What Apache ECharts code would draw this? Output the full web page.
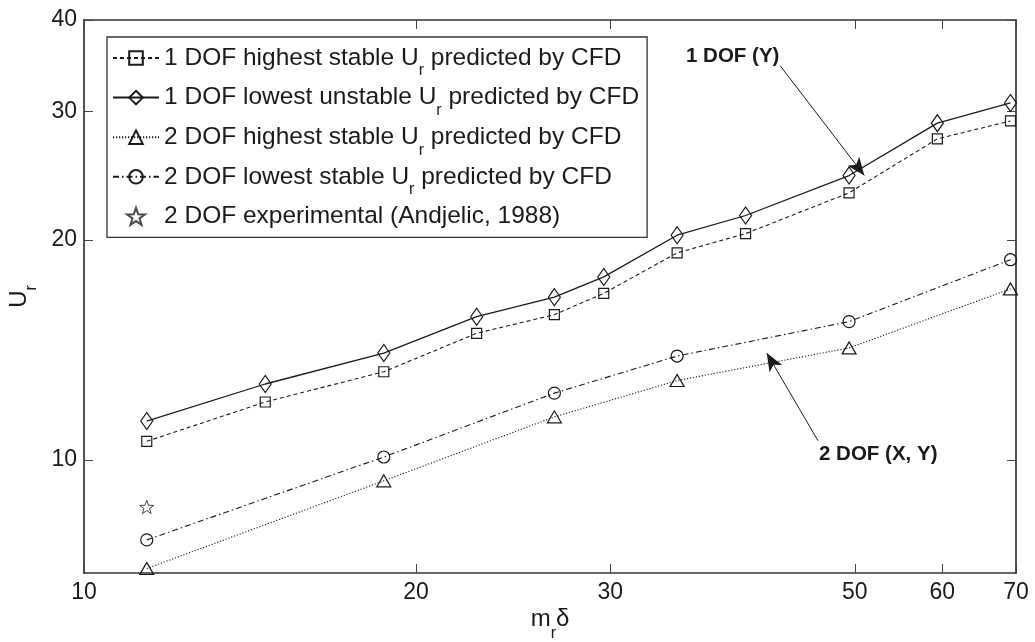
<!DOCTYPE html>
<html>
<head>
<meta charset="utf-8">
<script src="https://cdn.jsdelivr.net/npm/echarts@6/dist/echarts.min.js"></script>
<style>
  html, body { margin: 0; padding: 0; background: #fff; }
  #chart { width: 1035px; height: 642px; }
</style>
</head>
<body>
<div id="chart"></div>
<script>
// Mass-damping parameter (m_r * delta) of the CFD runs
const massDamping1dof = [11.4, 14.6, 18.7, 22.7, 26.7, 29.6, 34.5, 39.8, 49.4, 59.4, 69.2];
const urHighestStable1dof = [10.6, 12.0, 13.2, 14.9, 15.8, 16.9, 19.2, 20.4, 23.2, 27.5, 29.1];
const urLowestUnstable1dof = [11.3, 12.7, 14.0, 15.7, 16.7, 17.8, 20.3, 21.6, 24.5, 28.9, 30.8];

const massDamping2dof = [11.4, 18.7, 26.7, 34.5, 49.4, 69.2];
const urHighestStable2dof = [7.1, 9.36, 11.45, 12.84, 14.23, 17.14];
const urLowestStable2dof = [7.77, 10.09, 12.34, 13.87, 15.46, 18.79];

// Experimental point (Andjelic, 1988)
const massDampingExp = [11.4];
const urExp = [8.62];

// Axis ranges and tick labels
const xRange = [10, 70];
const yRange = [7, 40];
const xTickValues = [10, 20, 30, 50, 60, 70];
const yTickValues = [10, 20, 30, 40];

// Annotation arrows, [tail, head] in data units
const arrow1dof = [[42.8, 34.6], [51.0, 24.5]];
const arrow2dof = [[46.3, 10.62], [41.6, 14.0]];

const seriesNames = [
  '1 DOF highest stable U_r predicted by CFD',
  '1 DOF lowest unstable U_r predicted by CFD',
  '2 DOF highest stable U_r predicted by CFD',
  '2 DOF lowest stable U_r predicted by CFD',
  '2 DOF experimental (Andjelic, 1988)'
];

const FONT = '"Liberation Sans", Arial, Helvetica, sans-serif';
const INK = '#1a1a1a';
const FRAME = '#333';
const STAR = 'path://M0,-10L2.35,-3.24L9.51,-3.09L3.8,1.24L5.88,8.09L0,4L-5.88,8.09L-3.8,1.24L-9.51,-3.09L-2.35,-3.24Z';

function pairs(xs, ys) { return xs.map((x, i) => [x, ys[i]]); }

const hollow = { color: 'rgba(255,255,255,0)', borderColor: INK, borderWidth: 1.2 };

// Rich styles: main text centred in the line, subscript dropped to the line bottom
function richPair(mainSize, subSize, lineH) {
  return {
    t: { fontSize: mainSize, fontFamily: FONT, color: INK, lineHeight: lineH, verticalAlign: 'middle' },
    s: { fontSize: subSize, fontFamily: FONT, color: INK, lineHeight: lineH, verticalAlign: 'bottom' }
  };
}

function makeX(position, main) {
  return {
    type: 'log', logBase: 10, min: xRange[0], max: xRange[1], position: position,
    axisLine: { show: true, onZero: false, lineStyle: { color: FRAME, width: 1.7 } },
    axisTick: { show: true, inside: true, length: 9, customValues: xTickValues,
                lineStyle: { color: '#444', width: 1 } },
    minorTick: { show: false },
    axisLabel: { show: main, customValues: xTickValues, fontSize: 23, fontFamily: FONT,
                 color: INK, margin: 8 },
    splitLine: { show: false },
    name: main ? '{t|m}{s|r}{t|δ}' : '',
    nameLocation: 'middle', nameGap: 23, nameMoveOverlap: false,
    nameTextStyle: { fontSize: 24, fontFamily: FONT, color: INK, lineHeight: 46,
                     rich: richPair(24, 16, 46) }
  };
}

function makeY(position, main) {
  return {
    type: 'log', logBase: 10, min: yRange[0], max: yRange[1], position: position,
    axisLine: { show: true, onZero: false, lineStyle: { color: FRAME, width: 1.7 } },
    axisTick: { show: true, inside: true, length: 9, customValues: yTickValues,
                lineStyle: { color: '#444', width: 1 } },
    minorTick: { show: false },
    axisLabel: { show: main, customValues: yTickValues, fontSize: 23, fontFamily: FONT,
                 color: INK, margin: 7 },
    splitLine: { show: false },
    name: main ? '{t|U}{s|r}' : '',
    nameLocation: 'middle', nameGap: 44, nameMoveOverlap: false,
    nameTextStyle: { fontSize: 24, fontFamily: FONT, color: INK, lineHeight: 42,
                     rich: richPair(24, 16, 42) }
  };
}

function legendLabel(name) {
  const parts = name.split('U_r');
  if (parts.length === 1) return '{t|' + name + '}';
  return '{t|' + parts[0] + 'U}{s|r}{t|' + parts[1] + '}';
}

const chart = echarts.init(document.getElementById('chart'), null, { renderer: 'canvas' });

const option = {
  animation: false,
  color: [INK],
  textStyle: { fontFamily: FONT },
  grid: { left: 84, right: 19, top: 20, bottom: 69, containLabel: false, outerBoundsMode: 'none' },
  legend: {
    orient: 'vertical', left: 107, top: 37,
    padding: [0, 8, 0, 5],
    backgroundColor: '#fff',
    borderColor: FRAME, borderWidth: 1.3, borderRadius: 0,
    itemWidth: 46, itemHeight: 17, itemGap: -2.4,
    data: seriesNames,
    formatter: legendLabel,
    textStyle: { fontSize: 24.5, fontFamily: FONT, color: INK, lineHeight: 42,
                 rich: richPair(24.5, 16, 42) },
    selectedMode: false
  },
  xAxis: [makeX('bottom', true), makeX('top', false)],
  yAxis: [makeY('left', true), makeY('right', false)],
  series: [
    {
      name: seriesNames[0], type: 'line', xAxisIndex: 0, yAxisIndex: 0,
      data: pairs(massDamping1dof, urHighestStable1dof),
      symbol: 'rect', symbolSize: 10, showSymbol: true,
      lineStyle: { color: INK, width: 1.1, type: [4, 3] },
      itemStyle: hollow, z: 3
    },
    {
      name: seriesNames[1], type: 'line', xAxisIndex: 0, yAxisIndex: 0,
      data: pairs(massDamping1dof, urLowestUnstable1dof),
      symbol: 'diamond', symbolSize: [12, 17], showSymbol: true,
      lineStyle: { color: INK, width: 1.3, type: 'solid' },
      itemStyle: hollow, z: 3,
      markLine: {
        silent: true, symbol: ['none', 'arrow'], symbolSize: [11, 18],
        label: { show: false },
        lineStyle: { color: INK, width: 1, type: 'solid' },
        data: [
          [{ coord: arrow1dof[0] }, { coord: arrow1dof[1] }],
          [{ coord: arrow2dof[0] }, { coord: arrow2dof[1] }]
        ]
      }
    },
    {
      name: seriesNames[2], type: 'line', xAxisIndex: 0, yAxisIndex: 0,
      data: pairs(massDamping2dof, urHighestStable2dof),
      symbol: 'triangle', symbolSize: [14, 12], showSymbol: true,
      lineStyle: { color: INK, width: 1.1, type: [1.2, 1.8] },
      itemStyle: hollow, z: 3
    },
    {
      name: seriesNames[3], type: 'line', xAxisIndex: 0, yAxisIndex: 0,
      data: pairs(massDamping2dof, urLowestStable2dof),
      symbol: 'circle', symbolSize: 12, showSymbol: true,
      lineStyle: { color: INK, width: 1.1, type: [6, 3, 1.5, 3] },
      itemStyle: hollow, z: 3
    },
    {
      name: seriesNames[4], type: 'scatter', xAxisIndex: 0, yAxisIndex: 0,
      data: pairs(massDampingExp, urExp),
      symbol: STAR, symbolSize: 14, symbolKeepAspect: true,
      itemStyle: { color: 'rgba(255,255,255,0)', borderColor: INK, borderWidth: 1 }, z: 3
    }
  ],
  graphic: [
    { type: 'text', left: 686, top: 46,
      style: { text: '1 DOF (Y)', font: 'bold 20.5px ' + FONT, fill: INK } },
    { type: 'text', left: 819, top: 444,
      style: { text: '2 DOF (X, Y)', font: 'bold 20.5px ' + FONT, fill: INK } }
  ]
};

chart.setOption(option);
</script>
</body>
</html>
